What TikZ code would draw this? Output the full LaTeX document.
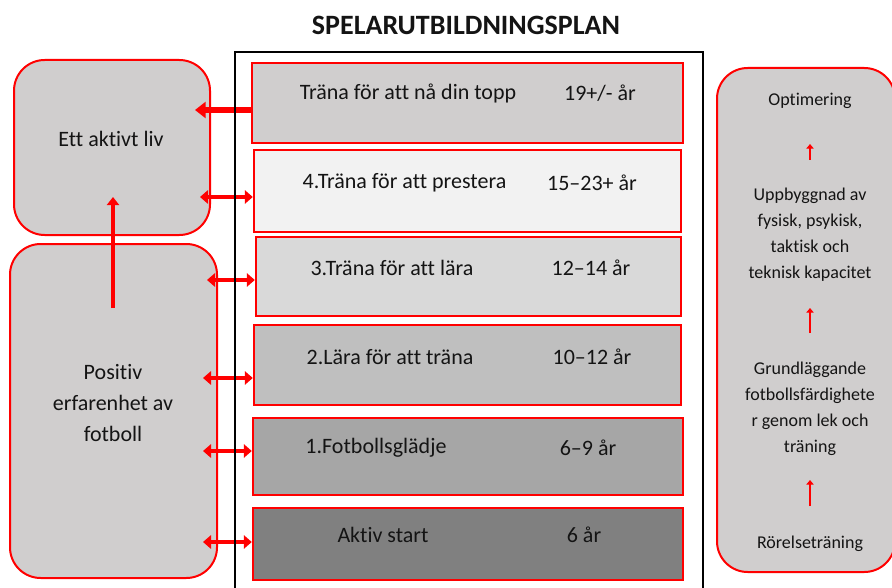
\documentclass[tikz,border=0pt]{standalone}
\usepackage{fontspec}
\setmainfont{Carlito}[Ligatures={NoCommon}]
\usetikzlibrary{arrows.meta}
\definecolor{rd}{RGB}{255,0,0}
\definecolor{gA}{RGB}{208,206,206}
\definecolor{gB}{RGB}{242,242,242}
\definecolor{gC}{RGB}{217,217,217}
\definecolor{gD}{RGB}{191,191,191}
\definecolor{gE}{RGB}{166,166,166}
\definecolor{gF}{RGB}{128,128,128}
\definecolor{txt}{RGB}{20,20,20}
\tikzset{
  stagebox/.style={draw=rd, line width=1.8pt, rectangle, inner sep=0pt},
  sidebox/.style={draw=rd, line width=1.5pt, fill=gA, rounded corners=23pt, inner sep=0pt},
  biglbl/.style={font=\fontsize{16.5}{23}\selectfont, text=txt, inner sep=0pt, align=center},
  smalllbl/.style={font=\fontsize{13.5}{19.5}\selectfont, text=txt, inner sep=0pt, align=center},
  bigarrow/.style={draw=rd, line width=4.5pt, -{Triangle[length=8pt,width=12pt]}},
  dblarrow/.style={draw=rd, line width=3pt, {Triangle[length=6pt,width=10pt]}-{Triangle[length=6pt,width=10pt]}},
  uparrow/.style={draw=rd, line width=3pt, -{Triangle[length=6pt,width=9pt]}},
  tinyarrow/.style={draw=rd, line width=2.2pt, -{Triangle[length=3.5pt,width=5.5pt]}},
}
\begin{document}
\begin{tikzpicture}[x=0.75pt,y=-0.75pt]
\useasboundingbox (0,0) rectangle (892,588);

% title
\node[font=\fontsize{21}{25}\selectfont\bfseries, text=txt] (title) at (466,25) {SPELARUTBILDNINGSPLAN};

% left boxes
\node[sidebox, minimum width=147pt, minimum height=131.25pt] (liv) at (112,147.5) {};
\node[biglbl] (livt) at (111,139) {Ett aktivt liv};
\node[sidebox, minimum width=155.25pt, minimum height=250.5pt] (pos) at (113.5,411) {};
\node[biglbl] (post) at (113,403) {Positiv\\erfarenhet av\\fotboll};

% right box
\node[sidebox, minimum width=133.5pt, minimum height=378pt] (rbox) at (806,320) {};
\node[smalllbl] (r1) at (810,101) {Optimering};
\node[smalllbl] (r2) at (810,235) {Uppbyggnad av\\fysisk, psykisk,\\taktisk och\\teknisk kapacitet};
\node[smalllbl] (r3) at (810,409) {Grundläggande\\fotbollsfärdighete\\r genom lek och\\träning};
\node[smalllbl] (r4) at (810,544) {Rörelseträning};

% stage boxes
\node[stagebox, fill=gA, minimum width=323.25pt, minimum height=60pt] (s1) at (467.5,103) {};
\node[stagebox, fill=gB, minimum width=320.25pt, minimum height=61.5pt] (s2) at (467.5,191) {};
\node[stagebox, fill=gC, minimum width=318.75pt, minimum height=59.25pt] (s3) at (468.5,276.5) {};
\node[stagebox, fill=gD, minimum width=320.25pt, minimum height=60pt] (s4) at (467.5,365) {};
\node[stagebox, fill=gE, minimum width=322.5pt, minimum height=57.75pt] (s5) at (468,456.5) {};
\node[stagebox, fill=gF, minimum width=322.5pt, minimum height=54pt] (s6) at (468,544) {};

\node[biglbl] (l1) at (408,93) {Träna för att nå din topp};
\node[biglbl] (a1) at (600,93) {19+/- år};
\node[biglbl] (l2) at (404.5,183) {4.Träna för att prestera};
\node[biglbl] (a2) at (592,183) {15–23+ år};
\node[biglbl] (l3) at (392,268) {3.Träna för att lära};
\node[biglbl] (a3) at (591,268) {12–14 år};
\node[biglbl] (l4) at (390,357) {2.Lära för att träna};
\node[biglbl] (a4) at (592,357) {10–12 år};
\node[biglbl] (l5) at (376,448) {1.Fotbollsglädje};
\node[biglbl] (a5) at (588,448) {6–9 år};
\node[biglbl] (l6) at (383,535) {Aktiv start};
\node[biglbl] (a6) at (584,535) {6 år};

% connectors
\coordinate (e1) at (195,110);
\coordinate (e2) at (200,197);
\coordinate (e3) at (207,280);
\coordinate (e4) at (203,378);
\coordinate (e5) at (203,451);
\coordinate (e6) at (203,542);
\path[bigarrow] (s1.west |- e1) -- (e1);
\path[dblarrow] (e2) -- (s2.west |- e2);
\path[dblarrow] (e3) -- (s3.west |- e3);
\path[dblarrow] (e4) -- (s4.west |- e4);
\path[dblarrow] (e5) -- (s5.west |- e5);
\path[dblarrow] (e6) -- (s6.west |- e6);

\coordinate (v0) at (113,308);
\coordinate (v1) at (113,197);
\path[uparrow] (v0) -- (v1);

\coordinate (t1a) at (810,160); \coordinate (t1b) at (810,144);
\coordinate (t2a) at (810,333); \coordinate (t2b) at (810,308);
\coordinate (t3a) at (810,506); \coordinate (t3b) at (810,480);
\path[tinyarrow] (t1a) -- (t1b);
\path[tinyarrow] (t2a) -- (t2b);
\path[tinyarrow] (t3a) -- (t3b);

% black frame
\draw[line width=1.5pt, black] (235,640) -- (235,52) -- (703,52) -- (703,640);
\end{tikzpicture}
\end{document}
